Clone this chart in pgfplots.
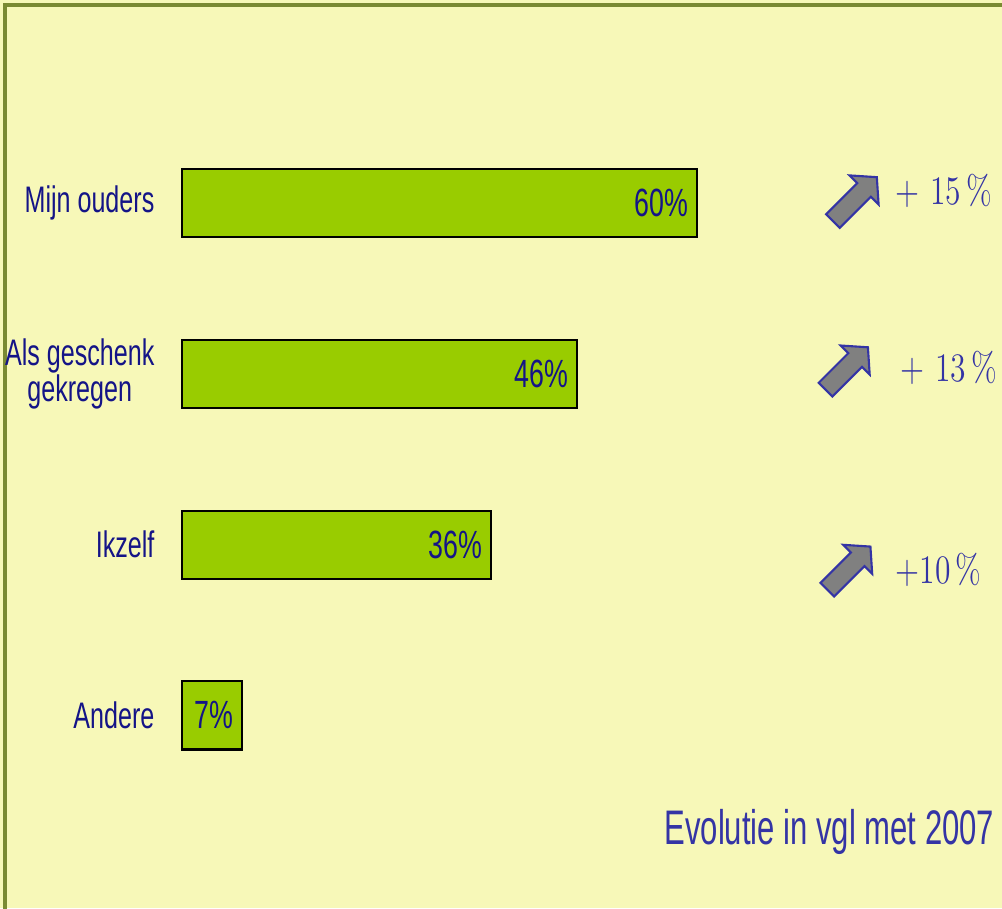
\documentclass[border=0pt]{standalone}
\usepackage{fontspec}
\usepackage{pgfplots}
\pgfplotsset{compat=1.18}
\newfontfamily\condA[FakeStretch=0.68]{Liberation Sans}
\newfontfamily\condB[FakeStretch=0.64]{Liberation Sans}
\definecolor{bg}{RGB}{247,248,184}
\definecolor{frame}{RGB}{122,138,50}
\definecolor{bargreen}{RGB}{153,204,0}
\definecolor{navy}{RGB}{20,20,135}
\definecolor{annblue}{RGB}{52,52,165}
\definecolor{arrgray}{RGB}{128,128,128}
\begin{document}
\begin{tikzpicture}[x=0.01cm,y=0.01cm]
\fill[bg] (0,0) rectangle (1002,-908);
\draw[frame,line width=1pt] (5,-1000) -- (5,-5) -- (1100,-5);
\begin{axis}[
  at={(1.82cm,-1.1767cm)}, anchor=north west,
  scale only axis, width=8.58cm, height=6.8267cm,
  xmin=0, xmax=100, ymin=-0.5, ymax=3.5, y dir=reverse,
  xbar, bar width=0.68cm,
  axis line style={draw=none}, tick style={draw=none},
  xtick=\empty, ytick={0,1,2,3},
  yticklabels={Mijn ouders,{Als geschenk\\gekregen},Ikzelf,Andere},
  yticklabel style={align=center, inner sep=0pt, xshift=-0.12cm,
    font=\condA\fontsize{10.5}{10.3}\selectfont, text=navy},
  clip=false,
  nodes near coords={\pgfmathprintnumber[assume math mode=true]{\pgfplotspointmeta}\%},
  every node near coord/.append style={anchor=east, inner sep=0pt, xshift=-0.08cm,
    font=\condA\fontsize{11.2}{12}\selectfont, text=navy},
]
\addplot[fill=bargreen, draw=black, line width=0.6pt] coordinates {(60,0) (46,1) (36,2) (7,3)};
\end{axis}
\foreach \cx/\cy/\len in {833/221/62, 825.5/389.7/60, 827.3/589.7/61}{
  \draw[fill=arrgray, draw=annblue, line width=0.6pt, line join=miter,
    shift={(\cx,-\cy)}, rotate=45]
    (0,-9.7) -- (\len-18,-9.7) -- (\len-18,-20.5) -- (\len,0) -- (\len-18,20.5) -- (\len-18,9.7) -- (0,9.7) -- cycle;
}
\begin{scope}[every node/.style={anchor=base west, inner sep=0pt, text=annblue, font=\rmfamily\fontsize{11.5}{12}\selectfont}]
\node at (895,-204) {\scalebox{0.78}[1]{+ 15\,\%}};
\node at (900,-381) {\scalebox{0.78}[1]{+ 13\,\%}};
\node at (895,-583) {\scalebox{0.78}[1]{+10\,\%}};
\end{scope}
\node[anchor=base east, inner sep=0pt, text=annblue, font=\condB\fontsize{13.8}{15}\selectfont] at (995,-844) {Evolutie in vgl met 2007};
\pgfresetboundingbox
\path[use as bounding box] (0,0) rectangle (1002,-908);
\end{tikzpicture}
\end{document}
